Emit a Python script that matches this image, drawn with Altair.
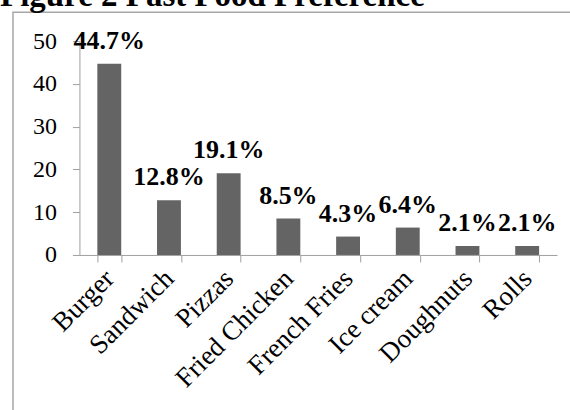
import altair as alt
import pandas as pd

categories = ["Burger", "Sandwich", "Pizzas", "Fried Chicken", "French Fries",
              "Ice cream", "Doughnuts", "Rolls"]
values = [44.7, 12.8, 19.1, 8.5, 4.3, 6.4, 2.1, 2.1]
labels = ["44.7%", "12.8%", "19.1%", "8.5%", "4.3%", "6.4%", "2.1%", "2.1%"]
y_ticks = [0, 10, 20, 30, 40, 50]
title_text = "Figure 2 Fast Food Preference"

df = pd.DataFrame({"food": categories, "pct": values, "label": labels})

FONT = "Liberation Serif"
AXIS_GRAY = "#a0a0a0"

x_enc = alt.X(
    "food:N",
    sort=categories,
    scale=alt.Scale(paddingInner=0.6, paddingOuter=0.3),
    axis=alt.Axis(
        title=None,
        tickBand="extent",
        labelAngle=-45,
        labelAlign="right",
        labelBaseline="top",
        labelFont=FONT,
        labelFontSize=27,
        labelColor="black",
        labelPadding=3,
        labelOffset=-9,
        tickSize=7,
        tickColor=AXIS_GRAY,
        domainColor=AXIS_GRAY,
        labelOverlap=False,
    ),
)
y_enc = alt.Y(
    "pct:Q",
    scale=alt.Scale(domain=[0, 50], nice=False),
    axis=alt.Axis(
        title=None,
        values=y_ticks,
        grid=False,
        labelFont=FONT,
        labelFontSize=24,
        labelColor="black",
        labelPadding=16,
        tickSize=7,
        tickColor=AXIS_GRAY,
        domainColor=AXIS_GRAY,
    ),
)

bars = alt.Chart(df).mark_bar(color="#646464").encode(x=x_enc, y=y_enc)
text = alt.Chart(df).mark_text(
    font=FONT, fontSize=26, fontWeight="bold", color="black",
    baseline="alphabetic", dy=-15
).encode(x=alt.X("food:N", sort=categories), y="pct:Q", text="label:N")

one = pd.DataFrame({"t": [title_text]})
frame = alt.Chart(one).mark_rect(
    fill=None, stroke="#a6a6a6", strokeWidth=1.5
).encode(
    x=alt.value(-66.5), x2=alt.value(700),
    y=alt.value(-29), y2=alt.value(600),
)
title = alt.Chart(one).mark_text(
    font=FONT, fontSize=33, fontWeight="bold", color="black",
    align="left", baseline="alphabetic"
).encode(x=alt.value(-79.5), y=alt.value(-35), text="t:N")

chart = alt.layer(frame, title, bars, text).properties(
    width=478,
    height=214,
    autosize=alt.AutoSizeParams(type="none"),
    padding={"left": 79.5, "top": 41, "right": 13, "bottom": 155},
).configure_view(stroke=None)

chart.save("out.html", embed_options={"renderer": "svg", "actions": False})
